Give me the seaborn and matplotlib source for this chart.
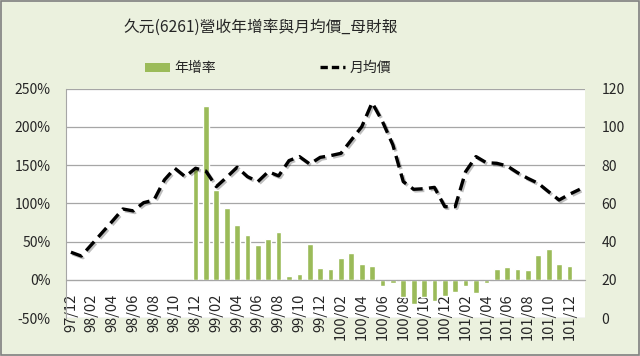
import numpy as np
import pandas as pd
import matplotlib
matplotlib.use("Agg")
import matplotlib.pyplot as plt
import matplotlib.patheffects as pe
from matplotlib.ticker import PercentFormatter, FixedLocator
from matplotlib.patches import Patch, Rectangle
from matplotlib.lines import Line2D
import seaborn as sns

# data
months = ['97/12',
          '98/01', '98/02', '98/03', '98/04', '98/05', '98/06',
          '98/07', '98/08', '98/09', '98/10', '98/11', '98/12',
          '99/01', '99/02', '99/03', '99/04', '99/05', '99/06',
          '99/07', '99/08', '99/09', '99/10', '99/11', '99/12',
          '100/01', '100/02', '100/03', '100/04', '100/05', '100/06',
          '100/07', '100/08', '100/09', '100/10', '100/11', '100/12',
          '101/01', '101/02', '101/03', '101/04', '101/05', '101/06',
          '101/07', '101/08', '101/09', '101/10', '101/11', '101/12',
          '102/01']

# 年增率 in percent (no value before 98/12 and for 102/01)
growth = [np.nan,
          np.nan, np.nan, np.nan, np.nan, np.nan, np.nan,
          np.nan, np.nan, np.nan, np.nan, np.nan, 145,
          227, 117.5, 94, 71, 58, 45,
          53, 63, 5, 8, 46.5, 15.5,
          14.5, 28.5, 35, 21, 18, -8,
          -4.3, -22, -31.5, -22, -27.5, -21,
          -15.5, -8, -17.5, -4.3, 14.5, 17,
          14.5, 13, 32.5, 40, 21, 17.5,
          np.nan]

# 月均價
price = [34.4,
         32.4, 38.5, 44.6, 50.7, 57.0, 56.0,
         60.3, 61.7, 72.2, 78.3, 73.9, 78.3,
         76.8, 68.7, 73.6, 78.8, 73.9, 71.3,
         76.5, 74.3, 82.3, 84.4, 80.5, 84.0,
         84.9, 86.1, 93.1, 100.0, 112.6, 102.7,
         90.5, 71.3, 67.3, 67.6, 68.3, 58.2,
         58.2, 76.5, 84.4, 81.2, 80.9, 79.5,
         76.0, 73.0, 70.4, 66.0, 61.7, 64.7,
         67.3]

title = '久元(6261)營收年增率與月均價_母財報'

df = pd.DataFrame({'month': months, 'growth': np.array(growth) / 100, 'price': price})
df['pos'] = np.arange(len(df))

bg = '#EBF1DE'
grid_c = '#A6A6A6'
bar_c = '#9BBB59'

sns.set_style('white')
plt.rcParams['font.family'] = ['Noto Sans CJK TC', 'DejaVu Sans']
plt.rcParams['axes.unicode_minus'] = False

fig = plt.figure(figsize=(6.4, 3.56), dpi=100, facecolor=bg)
ax = fig.add_axes([0.1027, 0.1067, 0.8114, 0.6447])
ax.set_facecolor('white')

sns.barplot(data=df, x='month', y='growth', order=months, color=bar_c,
            saturation=1, width=0.55, ax=ax, zorder=2)
ax.set_xlim(-0.5, len(months) - 0.5)
ax.set_ylim(-0.5, 2.5)
ax.set_yticks(np.arange(-0.5, 2.51, 0.5))
ax.yaxis.set_major_formatter(PercentFormatter(xmax=1, decimals=0))
ax.grid(axis='y', color=grid_c, linewidth=0.9, zorder=0)
ax.set_axisbelow(True)
ax.set_xlabel('')
ax.set_ylabel('')

# category axis sits on the 0% line
ax.spines['bottom'].set_position(('data', 0))
ax.spines['bottom'].set_color(grid_c)
ax.spines['left'].set_color(grid_c)
ax.spines['top'].set_visible(False)
ax.spines['right'].set_visible(False)
ax.set_xticks(np.arange(0, len(months), 2))
ax.set_xticklabels(months[::2], rotation=90, fontsize=10.5)
ax.xaxis.set_minor_locator(FixedLocator(np.arange(-0.5, len(months), 1)))
ax.tick_params(axis='x', which='major', length=0, pad=10)
ax.tick_params(axis='x', which='minor', length=4, color=grid_c, direction='out')
ax.tick_params(axis='y', length=0, pad=11, labelsize=10)

ax2 = ax.twinx()
sns.lineplot(data=df, x='pos', y='price', ax=ax2, color='black', linewidth=2.4,
             linestyle=(0, (3.6, 1.9)),
             path_effects=[pe.SimpleLineShadow(offset=(1.2, -1.2), alpha=0.25), pe.Normal()])
ax2.set_ylim(0, 120)
ax2.set_yticks(np.arange(0, 121, 20))
ax2.set_xlim(-0.5, len(months) - 0.5)
ax2.set_xlabel('')
ax2.set_ylabel('')
for s in ax2.spines.values():
    s.set_visible(False)
ax2.tick_params(axis='y', length=0, pad=12, labelsize=10)

fig.text(0.408, 0.924, title, ha='center', va='center', fontsize=11.3)

handles = [Patch(facecolor=bar_c, edgecolor='none'),
           Line2D([0], [0], color='black', linewidth=2.4, linestyle=(0, (2.2, 1.2)))]
fig.legend(handles, ['年增率', '月均價'], loc='center', bbox_to_anchor=(0.419, 0.809),
           ncol=2, frameon=False, fontsize=10, handlelength=1.8, handleheight=0.6,
           columnspacing=7.5, handletextpad=0.3)

fig.patches.append(Rectangle((0.002, 0.003), 0.996, 0.994, transform=fig.transFigure,
                             fill=False, edgecolor='#808080', linewidth=1.2))

fig.savefig('out.png', dpi=100, facecolor=bg)
